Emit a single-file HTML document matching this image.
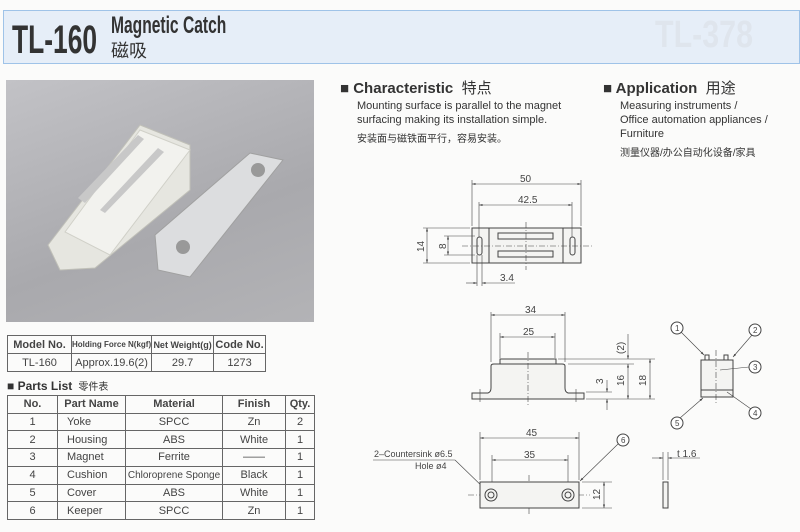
<!DOCTYPE html>
<html><head><meta charset="utf-8"><style>
body{margin:0;width:800px;height:532px;background:#fbfbfa;position:relative;overflow:hidden;font-family:"Liberation Sans","Noto Sans CJK SC",sans-serif;color:#333}
.a{position:absolute;white-space:nowrap}
table{border-collapse:collapse;position:absolute;font-size:11px}
td{border:1px solid #666;text-align:center;padding:0;color:#444;white-space:nowrap}
th{border:1px solid #666;font-weight:bold;padding:0;color:#444;white-space:nowrap}
</style></head><body>
<div class="a" style="left:3px;top:10px;width:797px;height:54px;background:#e6eef8;border:1px solid #9fc3e8;box-sizing:border-box"></div>
<div class="a" style="left:12px;top:18px;font-size:40px;font-weight:bold;color:#333;transform:scaleX(0.66);transform-origin:0 0">TL-160</div>
<div class="a" style="left:111px;top:12px;font-size:24px;font-weight:bold;color:#333;transform:scaleX(0.65);transform-origin:0 0">Magnetic Catch</div>
<div class="a" style="left:111px;top:37px;font-size:18px;color:#333">磁吸</div>
<div class="a" style="left:655px;top:14px;font-size:38px;font-weight:bold;color:#dfe5ed;transform:scaleX(0.8);transform-origin:0 0">TL-378</div>

<div class="a" style="left:6px;top:80px;width:308px;height:242px;background:linear-gradient(160deg,#c2c2c6,#a9a9ad 60%,#b3b3b6)"></div>
<svg class="a" style="left:0;top:0" width="800" height="532">
<defs><marker id="m" viewBox="0 0 10 10" refX="10" refY="5" markerWidth="6" markerHeight="6" orient="auto-start-reverse"><path d="M0,2 L10,5 L0,8 Z" fill="#444"/></marker></defs>
<g>
<polygon points="48,245 140,125 190,145 190,190 95,268 60,270" fill="#e6e6e0" stroke="#c0c0b8"/>
<polygon points="65,232 140,130 190,150 110,255" fill="#f2f2ee" stroke="#d0d0c8"/>
<polygon points="78,198 138,135 144,139 85,203" fill="#c8c8c8"/>
<polygon points="100,210 158,148 164,152 105,213" fill="#c8c8c8"/>
<polygon points="155,235 250,153 283,160 190,277 158,270" fill="#dcdddf" stroke="#a0a0a0"/>
<circle cx="258" cy="170" r="7" fill="#999"/><circle cx="183" cy="247" r="7" fill="#999"/>
</g>
<g stroke="#444" fill="none" stroke-width="1">
<rect x="472" y="228" width="109" height="35" fill="#f4f4f2"/>
<line x1="489" y1="228" x2="489" y2="263"/><line x1="563" y1="228" x2="563" y2="263"/>
<rect x="498" y="233" width="55" height="6"/><rect x="498" y="251" width="55" height="6"/>
<rect x="477" y="237" width="5" height="18" rx="2.5"/><rect x="570" y="237" width="5" height="18" rx="2.5"/>
<g stroke-width="0.6"><line x1="472" y1="180" x2="472" y2="226"/><line x1="581" y1="180" x2="581" y2="226"/>
<line x1="472" y1="184" x2="581" y2="184" marker-start="url(#m)" marker-end="url(#m)"/>
<line x1="479" y1="202" x2="479" y2="237"/><line x1="572" y1="202" x2="572" y2="237"/>
<line x1="479" y1="205" x2="572" y2="205" marker-start="url(#m)" marker-end="url(#m)"/>
<line x1="423" y1="228" x2="470" y2="228"/><line x1="423" y1="263" x2="470" y2="263"/><line x1="427" y1="228" x2="427" y2="263" marker-start="url(#m)" marker-end="url(#m)"/>
<line x1="444" y1="236" x2="475" y2="236"/><line x1="444" y1="255" x2="475" y2="255"/><line x1="448" y1="236" x2="448" y2="255" marker-start="url(#m)" marker-end="url(#m)"/>
<line x1="477" y1="255" x2="477" y2="286"/><line x1="482" y1="255" x2="482" y2="286"/>
<line x1="466" y1="283" x2="477" y2="283" marker-end="url(#m)"/><line x1="515" y1="283" x2="482" y2="283" marker-end="url(#m)"/>
<line x1="526" y1="222" x2="526" y2="270" stroke-dasharray="6 2 1 2"/><line x1="462" y1="246" x2="592" y2="246" stroke-dasharray="6 2 1 2"/></g>
<path d="M472,393 L488,393 Q491,392 491,388 L491,366 Q491,364 494,364 L562,364 Q565,364 565,366 L565,388 Q565,392 568,393 L584,393 L584,399 L472,399 Z" fill="#f4f4f2"/>
<rect x="500" y="359" width="56" height="5" fill="#f4f4f2"/>
<g stroke-width="0.6">
<line x1="491" y1="312" x2="491" y2="362"/><line x1="565" y1="312" x2="565" y2="362"/><line x1="491" y1="315" x2="565" y2="315" marker-start="url(#m)" marker-end="url(#m)"/>
<line x1="500" y1="333" x2="500" y2="358"/><line x1="555" y1="333" x2="555" y2="358"/><line x1="500" y1="337" x2="555" y2="337" marker-start="url(#m)" marker-end="url(#m)"/>
<line x1="558" y1="359" x2="655" y2="359"/><line x1="568" y1="364" x2="634" y2="364"/><line x1="586" y1="399" x2="655" y2="399"/><line x1="586" y1="392" x2="612" y2="392"/>
<line x1="650" y1="359" x2="650" y2="399" marker-start="url(#m)" marker-end="url(#m)"/><line x1="628" y1="364" x2="628" y2="399" marker-start="url(#m)" marker-end="url(#m)"/><line x1="628" y1="334" x2="628" y2="359" marker-end="url(#m)"/>
<line x1="607" y1="380" x2="607" y2="392" marker-end="url(#m)"/><line x1="607" y1="410" x2="607" y2="399" marker-end="url(#m)"/>
<line x1="528" y1="352" x2="528" y2="405" stroke-dasharray="6 2 1 2"/>
<line x1="480" y1="389" x2="480" y2="402"/><line x1="576" y1="389" x2="576" y2="402"/></g>
<rect x="701" y="360" width="32" height="37" fill="#f4f4f2"/><line x1="701" y1="390" x2="733" y2="390"/>
<rect x="705" y="355" width="4" height="5"/><rect x="724" y="355" width="4" height="5"/>
<line x1="716" y1="350" x2="716" y2="405" stroke-width="0.6" stroke-dasharray="6 2 1 2"/>
<g stroke-width="0.6"><line x1="681" y1="332" x2="704" y2="355" marker-end="url(#m)"/><line x1="752" y1="335" x2="733" y2="357" marker-end="url(#m)"/><line x1="749" y1="367" x2="720" y2="370"/><line x1="751" y1="409" x2="727" y2="392"/><line x1="680" y1="418" x2="703" y2="398" marker-end="url(#m)"/><line x1="618" y1="444" x2="580" y2="481" marker-end="url(#m)"/><line x1="373" y1="460" x2="455" y2="460"/><line x1="455" y1="460" x2="488" y2="492" marker-end="url(#m)"/>
<line x1="480" y1="432" x2="480" y2="480"/><line x1="579" y1="432" x2="579" y2="480"/><line x1="480" y1="438" x2="579" y2="438" marker-start="url(#m)" marker-end="url(#m)"/>
<line x1="492" y1="455" x2="492" y2="490"/><line x1="568" y1="455" x2="568" y2="490"/><line x1="492" y1="460" x2="568" y2="460" marker-start="url(#m)" marker-end="url(#m)"/>
<line x1="582" y1="482" x2="612" y2="482"/><line x1="582" y1="508" x2="612" y2="508"/><line x1="604" y1="482" x2="604" y2="508" marker-start="url(#m)" marker-end="url(#m)"/>
<line x1="663" y1="452" x2="663" y2="480"/><line x1="668" y1="452" x2="668" y2="480"/><line x1="652" y1="458" x2="663" y2="458" marker-end="url(#m)"/><line x1="700" y1="458" x2="668" y2="458" marker-end="url(#m)"/>
<line x1="529" y1="475" x2="529" y2="515" stroke-dasharray="6 2 1 2"/><line x1="468" y1="495" x2="590" y2="495" stroke-dasharray="6 2 1 2"/></g>
<g fill="#fff"><circle cx="677" cy="328" r="6"/><circle cx="755" cy="330" r="6"/><circle cx="755" cy="367" r="6"/><circle cx="755" cy="413" r="6"/><circle cx="677" cy="423" r="6"/><circle cx="623" cy="440" r="6"/></g>
<rect x="480" y="482" width="99" height="26" fill="#f4f4f2"/>
<circle cx="491" cy="495" r="6"/><circle cx="491" cy="495" r="3"/><circle cx="568" cy="495" r="6"/><circle cx="568" cy="495" r="3"/>
<rect x="663" y="482" width="5" height="26" fill="#f4f4f2"/>
</g>
<g fill="#444" font-family="Liberation Sans" font-size="10">
<text x="520" y="182">50</text><text x="518" y="203">42.5</text><text x="500" y="281">3.4</text>
<text x="525" y="313">34</text><text x="523" y="335">25</text>
<text x="677" y="457">t 1.6</text>
<text x="526" y="436">45</text><text x="524" y="458">35</text>
<text x="374" y="457" font-size="9">2–Countersink ø6.5</text><text x="415" y="469" font-size="9">Hole ø4</text>
<g font-size="8"><text x="675" y="331">1</text><text x="753" y="333">2</text><text x="753" y="370">3</text><text x="753" y="416">4</text><text x="675" y="426">5</text><text x="621" y="443">6</text></g>
<text transform="translate(424,252) rotate(-90)">14</text>
<text transform="translate(446,249) rotate(-90)">8</text>
<text transform="translate(624,354) rotate(-90)">(2)</text>
<text transform="translate(624,386) rotate(-90)">16</text>
<text transform="translate(646,386) rotate(-90)">18</text>
<text transform="translate(603,384) rotate(-90)">3</text>
<text transform="translate(600,500) rotate(-90)">12</text>
</g>
</svg>

<div class="a" style="left:340px;top:77px;font-size:15px;font-weight:bold;color:#333">■ Characteristic <span style="font-weight:normal">&nbsp;特点</span></div>
<div class="a" style="left:357px;top:99px;font-size:11px;line-height:14px">Mounting surface is parallel to the magnet<br>surfacing making its installation simple.</div>
<div class="a" style="left:357px;top:130px;font-size:10px">安装面与磁铁面平行，容易安装。</div>
<div class="a" style="left:603px;top:77px;font-size:15px;font-weight:bold;color:#333">■ Application <span style="font-weight:normal">&nbsp;用途</span></div>
<div class="a" style="left:620px;top:99px;font-size:11px;line-height:14px">Measuring instruments /<br>Office automation appliances /<br>Furniture</div>
<div class="a" style="left:620px;top:144px;font-size:10px">测量仪器/办公自动化设备/家具</div>

<table style="left:7px;top:335px;width:259px;height:37px">
<tr style="height:18px"><th style="width:63px">Model No.</th><th style="width:71px;font-size:8px">Holding Force N(kgf)</th><th style="width:61px;font-size:9px">Net Weight(g)</th><th>Code No.</th></tr>
<tr><td>TL-160</td><td>Approx.19.6(2)</td><td>29.7</td><td>1273</td></tr></table>
<div class="a" style="left:7px;top:378px;font-size:12px;font-weight:bold;color:#333">■ Parts List <span style="font-weight:normal;font-size:10px">&nbsp;零件表</span></div>
<table style="left:7px;top:395px;width:308px;height:125px">
<tr><th style="width:49px">No.</th><th style="width:67px">Part Name</th><th style="width:96px">Material</th><th style="width:62px">Finish</th><th>Qty.</th></tr>
<tr><td>1</td><td style="text-align:left;padding-left:9px">Yoke</td><td>SPCC</td><td>Zn</td><td>2</td></tr>
<tr><td>2</td><td style="text-align:left;padding-left:9px">Housing</td><td>ABS</td><td>White</td><td>1</td></tr>
<tr><td>3</td><td style="text-align:left;padding-left:9px">Magnet</td><td>Ferrite</td><td>——</td><td>1</td></tr>
<tr><td>4</td><td style="text-align:left;padding-left:9px">Cushion</td><td style="font-size:10px">Chloroprene Sponge</td><td>Black</td><td>1</td></tr>
<tr><td>5</td><td style="text-align:left;padding-left:9px">Cover</td><td>ABS</td><td>White</td><td>1</td></tr>
<tr><td>6</td><td style="text-align:left;padding-left:9px">Keeper</td><td>SPCC</td><td>Zn</td><td>1</td></tr></table>
</body></html>
